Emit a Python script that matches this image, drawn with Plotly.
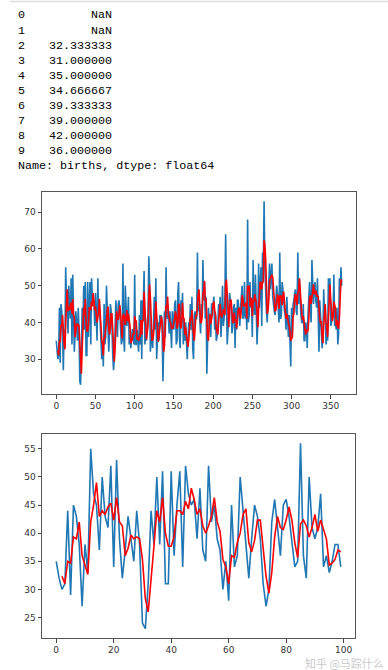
import pandas as pd
import plotly.graph_objects as go

# Daily total female births (California, 1959)
births = [
35,32,30,31,44,29,45,43,38,27,38,33,55,47,45,37,50,43,41,52,34,53,39,32,37,43,39,35,44,38,
24,23,31,44,38,50,38,51,31,31,51,36,45,51,34,52,47,45,46,39,48,37,35,52,42,45,39,37,30,35,
28,45,34,36,50,44,39,32,39,45,43,39,31,27,30,42,46,41,36,45,46,43,38,34,35,56,36,32,50,41,
39,41,47,34,36,33,35,38,38,34,53,34,34,38,35,32,42,34,46,30,46,45,54,34,37,35,40,42,58,51,
32,35,38,33,39,47,38,52,30,34,40,35,42,41,42,38,24,34,43,36,55,41,45,41,37,43,39,33,43,40,
38,45,46,34,35,48,51,36,33,46,42,48,34,41,35,40,34,30,36,40,39,45,38,47,33,30,42,43,41,41,
59,43,45,38,37,45,42,57,46,51,41,47,26,35,44,41,42,36,45,45,45,47,38,42,35,36,39,45,43,47,
36,41,50,39,41,46,64,45,34,38,44,48,46,44,37,39,44,45,33,44,38,46,46,40,39,44,48,50,41,42,
51,41,44,38,68,40,42,51,44,45,36,57,44,42,53,42,34,40,56,44,53,55,39,59,55,73,55,44,43,40,
47,51,56,49,54,56,47,44,43,42,45,50,48,43,40,59,41,42,51,49,45,43,42,38,47,38,36,42,35,28,
44,36,45,46,48,49,43,42,59,45,52,46,42,40,40,45,35,35,40,39,33,42,47,51,44,40,57,49,45,49,
51,46,44,52,45,32,46,41,34,33,36,49,43,43,34,39,35,52,47,52,39,40,42,42,53,39,40,38,44,34,
37,52,48,55,50]

x_ticks_1 = [0, 50, 100, 150, 200, 250, 300, 350]
y_ticks_1 = [30, 40, 50, 60, 70]
x_ticks_2 = [0, 20, 40, 60, 80, 100]
y_ticks_2 = [25, 30, 35, 40, 45, 50, 55]
n_short = 100
n_print = 10
series_name = "births"
watermark = "知乎 @马踪什么"

s = pd.Series(births, name=series_name)
roll = s.rolling(3).mean()
s2 = s[:n_short]
roll2 = s2.rolling(3).mean()

W, H = 388, 670
BLUE = "#1f77b4"
RED = "#ff0000"

fig = go.Figure()
fig.add_trace(go.Scatter(x=s.index, y=s.values, mode="lines",
                         line=dict(color=BLUE, width=1.6), xaxis="x", yaxis="y"))
fig.add_trace(go.Scatter(x=roll.index, y=roll.values, mode="lines",
                         line=dict(color=RED, width=1.6), xaxis="x", yaxis="y"))
fig.add_trace(go.Scatter(x=s2.index, y=s2.values, mode="lines",
                         line=dict(color=BLUE, width=1.6), xaxis="x2", yaxis="y2"))
fig.add_trace(go.Scatter(x=roll2.index, y=roll2.values, mode="lines",
                         line=dict(color=RED, width=1.6), xaxis="x2", yaxis="y2"))

def px_x(p):
    return p / W

def px_y(p):
    return 1 - p / H

axis_common = dict(showgrid=False, zeroline=False, showline=True, mirror=True,
                   linecolor="#555555", linewidth=1, ticks="outside", ticklen=3.5,
                   tickwidth=1, tickcolor="#444444",
                   tickfont=dict(family="DejaVu Sans", size=9, color="#333333"))

def pad(lo, hi):
    d = (hi - lo) * 0.05
    return [lo - d, hi + d]

fig.update_layout(
    width=W, height=H, margin=dict(l=0, r=0, t=0, b=0),
    paper_bgcolor="white", plot_bgcolor="white", showlegend=False,
    xaxis=dict(domain=[px_x(42), px_x(356)], range=pad(0, len(births) - 1),
               tickvals=x_ticks_1, anchor="y", **axis_common),
    yaxis=dict(domain=[px_y(394), px_y(192)], range=pad(min(births), max(births)),
               tickvals=y_ticks_1, anchor="x", **axis_common),
    xaxis2=dict(domain=[px_x(42), px_x(355)], range=pad(0, n_short - 1),
                tickvals=x_ticks_2, anchor="y2", **axis_common),
    yaxis2=dict(domain=[px_y(638), px_y(434)], range=pad(min(births[:n_short]), max(births[:n_short])),
                tickvals=y_ticks_2, anchor="x2", **axis_common),
)

mono = dict(family="Liberation Mono", size=11.7, color="#000000")
line_h = 15.07
for i in range(n_print):
    yc = 15.5 + line_h * i
    v = roll.iloc[i]
    vtxt = "NaN" if pd.isna(v) else f"{v:.6f}"
    fig.add_annotation(x=px_x(16), y=px_y(yc), xref="paper", yref="paper",
                       text=str(i), showarrow=False, xanchor="left", yanchor="middle", font=mono)
    fig.add_annotation(x=px_x(114), y=px_y(yc), xref="paper", yref="paper",
                       text=vtxt, showarrow=False, xanchor="right", yanchor="middle", font=mono)
fig.add_annotation(x=px_x(16), y=px_y(15.5 + line_h * n_print), xref="paper", yref="paper",
                   text=f"Name: {series_name}, dtype: float64", showarrow=False,
                   xanchor="left", yanchor="middle", font=mono)

# notebook cell border line at top
fig.add_shape(type="line", xref="paper", yref="paper", x0=px_x(10), x1=1,
              y0=px_y(1.5), y1=px_y(1.5), line=dict(color="#dddddd", width=1.5))

# watermark
fig.add_annotation(x=px_x(386), y=px_y(663), xref="paper", yref="paper",
                   text=watermark, showarrow=False, xanchor="right", yanchor="middle",
                   font=dict(family="Noto Sans CJK SC", size=11, color="rgba(190,190,190,0.85)"))

fig.write_html("out.html", config={"displayModeBar": False},
               post_script="document.body.style.margin='0';")
